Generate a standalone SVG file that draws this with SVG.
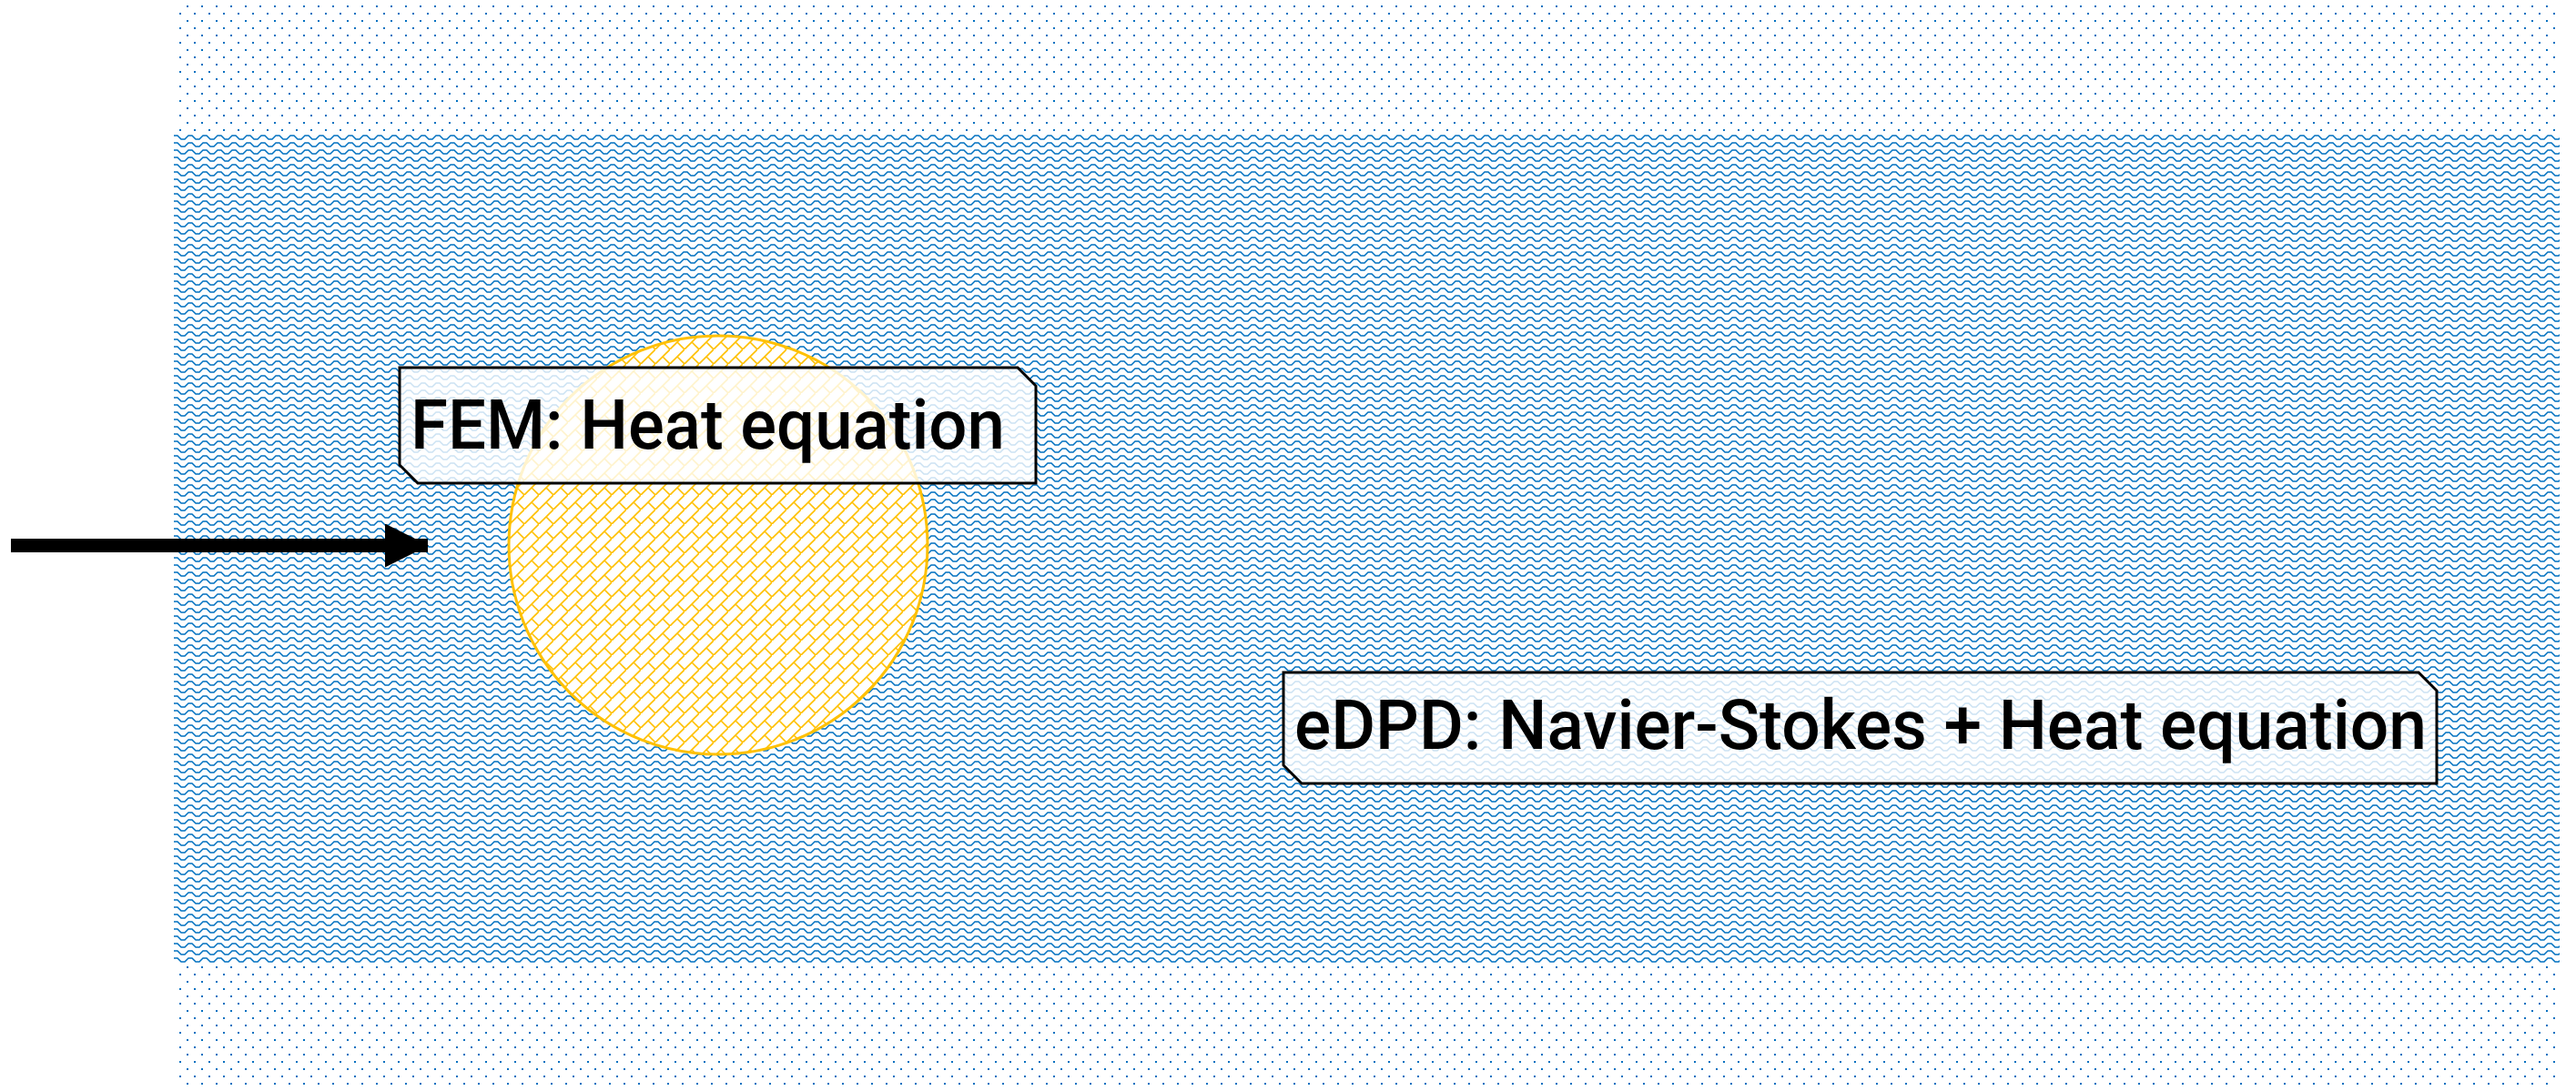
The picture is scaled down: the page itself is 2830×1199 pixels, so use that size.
<svg xmlns="http://www.w3.org/2000/svg" width="2830" height="1199" viewBox="0 0 2830 1199">
  <style>
    .lbl { font-family: Roboto, "Liberation Sans", sans-serif; font-weight: 500; font-size: 76px; fill: #000; }
    .box { fill: #ffffff; fill-opacity: 0.8; stroke: #000; stroke-width: 3; stroke-linejoin: miter; }
  </style>
  <defs>
    <pattern id="dots" patternUnits="userSpaceOnUse" x="0" y="0" width="16" height="16">
      <rect x="13" y="6" width="2" height="2" fill="#0070C0"/>
      <rect x="5" y="14" width="2" height="2" fill="#0070C0"/>
    </pattern>
    <pattern id="zig" patternUnits="userSpaceOnUse" x="191" y="147" width="16" height="8">
      <polyline points="-4,6 0,2 4,2 8,6 12,6 16,2 20,2" fill="none" stroke="#0070C0" stroke-width="1.5"/>
    </pattern>
    <pattern id="brick" patternUnits="userSpaceOnUse" x="0" y="0" width="16" height="16">
      <rect width="16" height="16" fill="#ffffff"/>
      <line x1="-2" y1="18" x2="18" y2="-2" stroke="#FFC000" stroke-width="1.6"/>
      <line x1="8" y1="8" x2="16" y2="16" stroke="#FFC000" stroke-width="1.6"/>
    </pattern>
    <marker id="ah" markerUnits="userSpaceOnUse" viewBox="0 0 48 48" refX="47" refY="24" markerWidth="48" markerHeight="48" orient="auto">
      <path d="M0,0 L48,24 L0,48 Z" fill="#000"/>
    </marker>
  </defs>

  <rect width="2830" height="1199" fill="#ffffff"/>

  <g id="outer-domain">
    <rect x="191" y="0" width="2621" height="1193" fill="url(#dots)"/>
  </g>
  <g id="edpd-band">
    <rect x="191" y="147" width="2621" height="911" fill="#ffffff"/>
    <rect x="191" y="147" width="2621" height="911" fill="url(#zig)"/>
  </g>
  <g id="fem-circle">
    <circle cx="789" cy="599" r="230" fill="url(#brick)" stroke="#FFC000" stroke-width="3"/>
  </g>

  <g id="connectors">
    <line x1="12" y1="599.5" x2="470" y2="599.5" stroke="#000" stroke-width="15" marker-end="url(#ah)"/>
  </g>

  <g id="fem-label">
    <polygon class="box" points="439,404 1118,404 1138,424 1138,531 459,531 439,511"/>
    <text class="lbl" x="451" y="493" textLength="653" lengthAdjust="spacingAndGlyphs">FEM: Heat equation</text>
  </g>
  <g id="edpd-label">
    <polygon class="box" points="1410,739 2657,739 2677,759 2677,861 1430,861 1410,841"/>
    <text class="lbl" x="1422" y="823" textLength="1244" lengthAdjust="spacingAndGlyphs">eDPD: Navier-Stokes + Heat equation</text>
  </g>
</svg>
